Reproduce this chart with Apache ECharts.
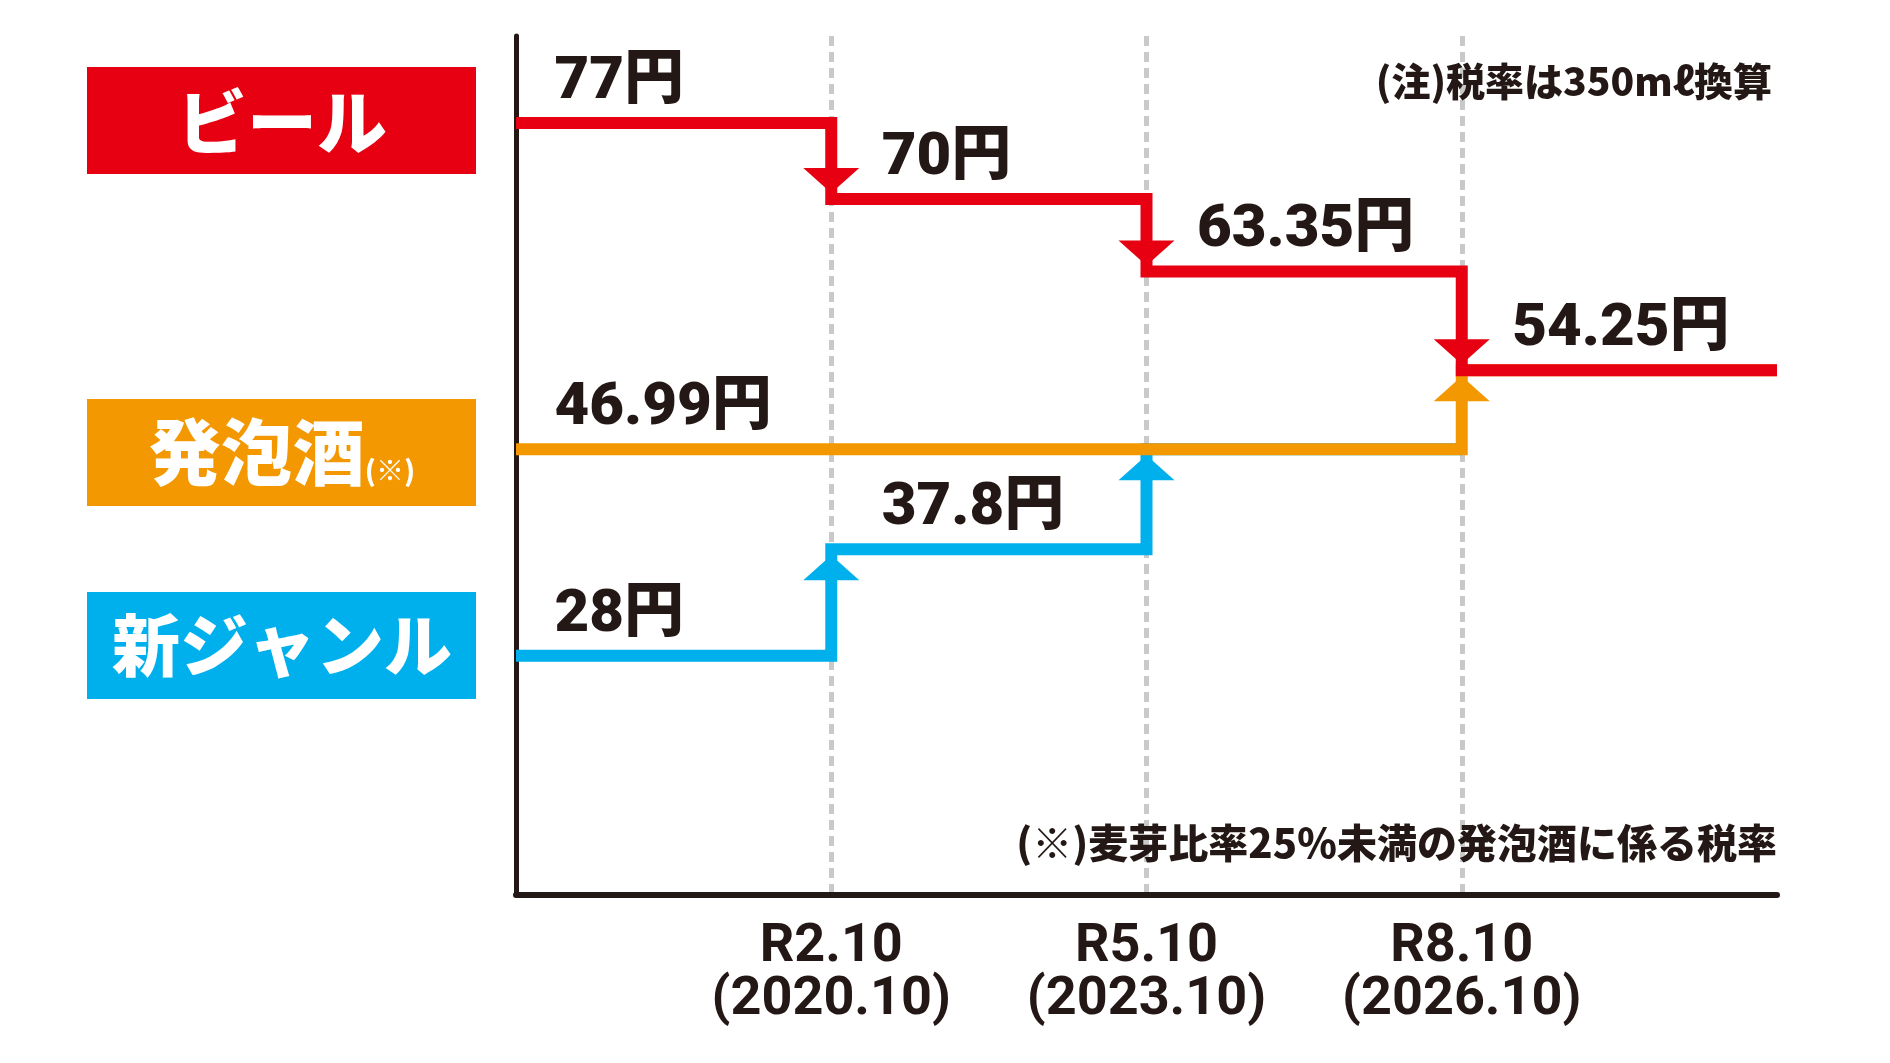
<!DOCTYPE html>
<html>
<head>
<meta charset="utf-8">
<script src="https://cdn.jsdelivr.net/npm/echarts@6/dist/echarts.min.js"></script>
<style>
  html, body { margin: 0; padding: 0; background: #fff; }
  #chart { width: 1890px; height: 1063px; }
</style>
</head>
<body>
<div id="chart"></div>
<script>
// 酒税の推移（350ml換算）
var categories = ['', 'R2.10\n(2020.10)', 'R5.10\n(2023.10)', 'R8.10\n(2026.10)', ''];
var beerRates = [77, 70, 63.35, 54.25, 54.25];
var happoshuRates = [46.99, 46.99, 46.99, 54.25, 54.25];
var shinGenreRates = [28, 37.8, 46.99, 54.25, 54.25];

var RED = '#e60012';
var ORANGE = '#f39800';
var BLUE = '#00b0ec';
var INK = '#231815';
var LINE_W = 12;
var ARROW = [56, 25];

var chart = echarts.init(document.getElementById('chart'));

// 上の系列と同じ値になった位置で線を止める
function mergeIndex(rates, upper) {
  if (!upper) return rates.length;
  for (var i = 0; i < rates.length; i++) {
    if (rates[i] === upper[i]) return i;
  }
  return rates.length;
}

function buildSeries(name, rates, upper, color) {
  var m = mergeIndex(rates, upper);
  var lineData = rates.map(function (v, i) { return i <= m ? v : '-'; });
  var arrowData = rates.map(function (v, i) {
    return (i > 0 && i <= m && v !== rates[i - 1]) ? v : '-';
  });
  var labelData = rates.map(function (v, i) {
    if (i < m && (i === 0 || v !== rates[i - 1])) {
      return { value: v, label: { offset: [i === 0 ? 38 : 50, -40] } };
    }
    return '-';
  });
  var down = rates[rates.length - 1] < rates[0];
  return [
    {
      name: name,
      type: 'line',
      step: 'end',
      data: lineData,
      symbol: 'none',
      silent: true,
      lineStyle: { color: color, width: LINE_W, cap: 'butt', join: 'miter' }
    },
    {
      name: name + '_arrow',
      type: 'scatter',
      data: arrowData,
      symbol: 'triangle',
      symbolSize: ARROW,
      symbolRotate: down ? 180 : 0,
      symbolOffset: [0, down ? -(LINE_W / 2 + ARROW[1] / 2) : (LINE_W / 2 + ARROW[1] / 2)],
      itemStyle: { color: color, opacity: 1 },
      silent: true
    },
    {
      name: name + '_label',
      type: 'scatter',
      data: labelData,
      symbolSize: 1,
      itemStyle: { color: 'rgba(0,0,0,0)', opacity: 1 },
      silent: true,
      label: {
        show: true,
        position: 'right',
        distance: 0,
        formatter: function (p) { return p.value + '円'; },
        color: INK,
        opacity: 1,
        fontSize: 60,
        fontWeight: 900,
        fontFamily: 'Roboto, "Noto Sans CJK JP", sans-serif'
      }
    }
  ];
}

var series = []
  .concat(buildSeries('新ジャンル', shinGenreRates, happoshuRates, BLUE))
  .concat(buildSeries('発泡酒', happoshuRates, beerRates, ORANGE))
  .concat(buildSeries('ビール', beerRates, null, RED));

var cjk = '"Noto Sans CJK JP", sans-serif';

var option = {
  backgroundColor: '#fff',
  animation: false,
  grid: { left: 516, right: 113, top: 36, bottom: 168 },
  xAxis: {
    type: 'category',
    data: categories,
    boundaryGap: false,
    axisLine: { lineStyle: { color: INK, width: 6 } },
    axisTick: { show: false },
    axisLabel: {
      interval: 0,
      margin: 26,
      color: INK,
      fontSize: 54,
      lineHeight: 53,
      fontWeight: 'bold',
      fontFamily: 'Roboto, "Noto Sans CJK JP", sans-serif'
    },
    splitLine: {
      show: true,
      interval: function (idx) { return idx > 0 && idx < categories.length - 1; },
      lineStyle: { color: '#c9c9c9', width: 5, type: [10, 6] }
    }
  },
  yAxis: {
    type: 'value',
    min: 6,
    max: 85,
    axisLine: { show: true, lineStyle: { color: INK, width: 5 } },
    axisTick: { show: false },
    axisLabel: { show: false },
    splitLine: { show: false }
  },
  graphic: [
    { type: 'rect', left: 87, top: 67, shape: { width: 389, height: 107 }, style: { fill: RED } },
    { type: 'text', x: 282, y: 122, style: { text: 'ビール', fill: '#fff', font: '900 70px ' + cjk, align: 'center', verticalAlign: 'middle' } },
    { type: 'rect', left: 87, top: 399, shape: { width: 389, height: 107 }, style: { fill: ORANGE } },
    {
      type: 'text', x: 282, y: 452,
      style: {
        text: '{a|発泡酒}{b|(※)}',
        fill: '#fff', align: 'center', verticalAlign: 'middle',
        rich: {
          a: { fontSize: 72, fontWeight: 900, fontFamily: cjk, fill: '#fff', lineHeight: 80 },
          b: { fontSize: 28, fontWeight: 900, fontFamily: cjk, fill: '#fff', lineHeight: 80, verticalAlign: 'bottom', padding: [0, 0, 8, 0] }
        }
      }
    },
    { type: 'rect', left: 87, top: 592, shape: { width: 389, height: 107 }, style: { fill: BLUE } },
    { type: 'text', x: 282, y: 645, style: { text: '新ジャンル', fill: '#fff', font: '900 68px ' + cjk, align: 'center', verticalAlign: 'middle' } },
    { type: 'text', x: 1772, y: 81, z: 10, style: { text: '(注)税率は350mℓ換算', fill: INK, font: '900 39px ' + cjk, align: 'right', verticalAlign: 'middle' } },
    { type: 'text', x: 1777, y: 843, z: 10, style: { text: '(※)麦芽比率25％未満の発泡酒に係る税率', fill: INK, font: '900 40px ' + cjk, align: 'right', verticalAlign: 'middle' } }
  ],
  series: series
};

chart.setOption(option);
</script>
</body>
</html>
